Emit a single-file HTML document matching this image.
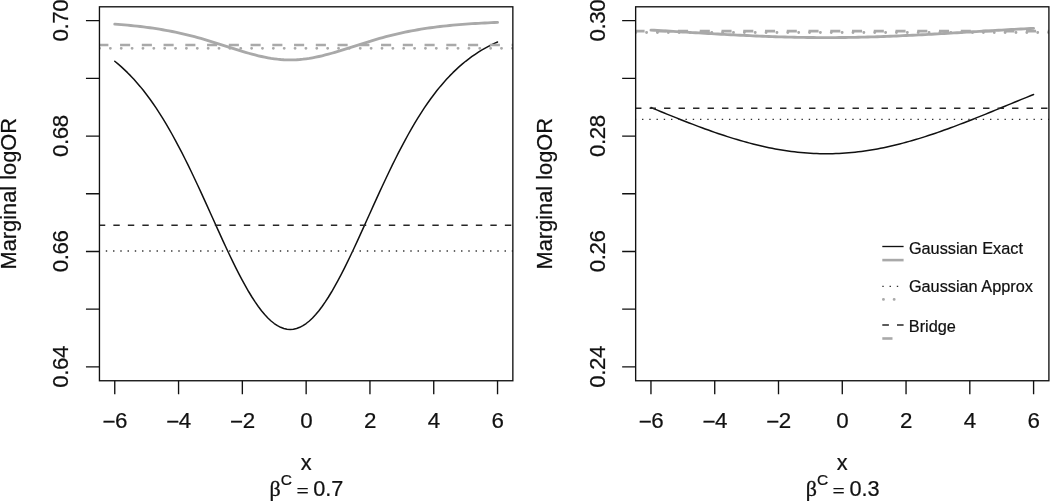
<!DOCTYPE html>
<html lang="en"><head><meta charset="utf-8"><title>Marginal logOR</title>
<style>html,body{margin:0;padding:0;background:#fff;}body{width:1050px;height:501px;overflow:hidden;font-family:"Liberation Sans",sans-serif;}svg{display:block;}svg text{stroke:#111;stroke-width:0.22px;}</style>
</head><body>
<svg width="1050" height="501" viewBox="0 0 1050 501" font-family="'Liberation Sans', Arial, Helvetica, sans-serif" fill="#111">
<rect width="1050" height="501" fill="#fff"/>
<g id="panel0">
<clipPath id="clip0"><rect x="99.45" y="6.8" width="413.40000000000003" height="373.95"/></clipPath>
<g clip-path="url(#clip0)" fill="none">
<path d="M114.76,61.29 L117.95,63.91 L121.14,66.67 L124.33,69.59 L127.52,72.66 L130.71,75.90 L133.90,79.31 L137.09,82.89 L140.28,86.64 L143.47,90.58 L146.66,94.71 L149.85,99.01 L153.04,103.51 L156.23,108.20 L159.42,113.08 L162.61,118.16 L165.80,123.42 L168.99,128.86 L172.18,134.50 L175.37,140.31 L178.56,146.29 L181.75,152.43 L184.94,158.74 L188.13,165.19 L191.32,171.77 L194.51,178.47 L197.70,185.28 L200.89,192.18 L204.08,199.16 L207.27,206.18 L210.46,213.24 L213.65,220.31 L216.84,227.37 L220.03,234.39 L223.21,241.35 L226.40,248.23 L229.59,255.00 L232.78,261.62 L235.97,268.09 L239.16,274.36 L242.35,280.41 L245.54,286.22 L248.73,291.76 L251.92,297.00 L255.11,301.93 L258.30,306.50 L261.49,310.72 L264.68,314.55 L267.87,317.97 L271.06,320.98 L274.25,323.54 L277.44,325.66 L280.63,327.32 L283.82,328.51 L287.01,329.23 L290.20,329.47 L293.39,329.23 L296.58,328.51 L299.77,327.32 L302.96,325.66 L306.15,323.54 L309.34,320.98 L312.53,317.97 L315.72,314.55 L318.91,310.72 L322.10,306.50 L325.29,301.93 L328.48,297.00 L331.67,291.76 L334.86,286.22 L338.05,280.41 L341.24,274.36 L344.43,268.09 L347.62,261.62 L350.81,255.00 L354.00,248.23 L357.19,241.35 L360.38,234.39 L363.57,227.37 L366.76,220.31 L369.95,213.24 L373.14,206.18 L376.33,199.16 L379.52,192.18 L382.71,185.28 L385.90,178.47 L389.09,171.77 L392.28,165.19 L395.46,158.74 L398.65,152.43 L401.84,146.29 L405.03,140.31 L408.22,134.50 L411.41,128.86 L414.60,123.42 L417.79,118.16 L420.98,113.08 L424.17,108.20 L427.36,103.51 L430.55,99.01 L433.74,94.71 L436.93,90.58 L440.12,86.64 L443.31,82.89 L446.50,79.31 L449.69,75.90 L452.88,72.66 L456.07,69.59 L459.26,66.67 L462.45,63.91 L465.64,61.29 L468.83,58.81 L472.02,56.47 L475.21,54.26 L478.40,52.18 L481.59,50.21 L484.78,48.35 L487.97,46.61 L491.16,44.97 L494.35,43.42 L497.54,41.97" stroke="#111" stroke-width="1.5" stroke-linejoin="round" stroke-linecap="round"/>
<line x1="98.85" x2="514.85" y1="225.14" y2="225.14" stroke="#262626" stroke-width="1.5" stroke-dasharray="6.4 8.1"/>
<line x1="98.55" x2="514.85" y1="250.94" y2="250.94" stroke="#333" stroke-width="1.4" stroke-dasharray="1.4 5.85"/>
<path d="M114.76,24.12 L117.95,24.36 L121.14,24.62 L124.33,24.89 L127.52,25.17 L130.71,25.48 L133.90,25.80 L137.09,26.15 L140.28,26.51 L143.47,26.90 L146.66,27.31 L149.85,27.74 L153.04,28.20 L156.23,28.69 L159.42,29.20 L162.61,29.74 L165.80,30.30 L168.99,30.90 L172.18,31.52 L175.37,32.17 L178.56,32.86 L181.75,33.57 L184.94,34.32 L188.13,35.09 L191.32,35.90 L194.51,36.73 L197.70,37.60 L200.89,38.49 L204.08,39.40 L207.27,40.34 L210.46,41.30 L213.65,42.28 L216.84,43.28 L220.03,44.29 L223.21,45.31 L226.40,46.34 L229.59,47.36 L232.78,48.39 L235.97,49.40 L239.16,50.40 L242.35,51.38 L245.54,52.33 L248.73,53.25 L251.92,54.14 L255.11,54.98 L258.30,55.77 L261.49,56.51 L264.68,57.19 L267.87,57.80 L271.06,58.34 L274.25,58.80 L277.44,59.19 L280.63,59.49 L283.82,59.71 L287.01,59.84 L290.20,59.88 L293.39,59.84 L296.58,59.71 L299.77,59.49 L302.96,59.19 L306.15,58.80 L309.34,58.34 L312.53,57.80 L315.72,57.19 L318.91,56.51 L322.10,55.77 L325.29,54.98 L328.48,54.14 L331.67,53.25 L334.86,52.33 L338.05,51.38 L341.24,50.40 L344.43,49.40 L347.62,48.39 L350.81,47.36 L354.00,46.34 L357.19,45.31 L360.38,44.29 L363.57,43.28 L366.76,42.28 L369.95,41.30 L373.14,40.34 L376.33,39.40 L379.52,38.49 L382.71,37.60 L385.90,36.73 L389.09,35.90 L392.28,35.09 L395.46,34.32 L398.65,33.57 L401.84,32.86 L405.03,32.17 L408.22,31.52 L411.41,30.90 L414.60,30.30 L417.79,29.74 L420.98,29.20 L424.17,28.69 L427.36,28.20 L430.55,27.74 L433.74,27.31 L436.93,26.90 L440.12,26.51 L443.31,26.15 L446.50,25.80 L449.69,25.48 L452.88,25.17 L456.07,24.89 L459.26,24.62 L462.45,24.36 L465.64,24.12 L468.83,23.90 L472.02,23.69 L475.21,23.49 L478.40,23.31 L481.59,23.13 L484.78,22.97 L487.97,22.82 L491.16,22.68 L494.35,22.54 L497.54,22.42" stroke="#a9a9a9" stroke-width="2.85" stroke-linejoin="round" stroke-linecap="round"/>
<line x1="98.30" x2="514.85" y1="44.99" y2="44.99" stroke="#a9a9a9" stroke-width="2.6" stroke-dasharray="10.1 11.65"/>
<line x1="99.45" x2="514.85" y1="48.30" y2="48.30" stroke="#a9a9a9" stroke-width="2.8" stroke-linecap="round" stroke-dasharray="0.1 10.765"/>
</g>
<rect x="99.45" y="6.8" width="413.40" height="373.95" fill="none" stroke="#111" stroke-width="1.35"/>
<path d="M114.76,380.75V394.15M178.56,380.75V394.15M242.35,380.75V394.15M306.15,380.75V394.15M369.95,380.75V394.15M433.74,380.75V394.15M497.54,380.75V394.15M99.45,366.90H85.95M99.45,309.19H85.95M99.45,251.48H85.95M99.45,193.77H85.95M99.45,136.07H85.95M99.45,78.36H85.95M99.45,20.65H85.95" stroke="#111" stroke-width="1.35" fill="none"/>
<g font-size="22.35" letter-spacing="-0.45" text-anchor="middle">
<text transform="translate(114.76,427.8)"><tspan dy="1.2">−</tspan><tspan dy="-1.2">6</tspan></text>
<text transform="translate(178.56,427.8)"><tspan dy="1.2">−</tspan><tspan dy="-1.2">4</tspan></text>
<text transform="translate(242.35,427.8)"><tspan dy="1.2">−</tspan><tspan dy="-1.2">2</tspan></text>
<text transform="translate(306.15,427.8)">0</text>
<text transform="translate(369.95,427.8)">2</text>
<text transform="translate(433.74,427.8)">4</text>
<text transform="translate(497.54,427.8)">6</text>
<text transform="translate(68.45,366.90) rotate(-90)">0.64</text>
<text transform="translate(68.45,251.48) rotate(-90)">0.66</text>
<text transform="translate(68.45,136.07) rotate(-90)">0.68</text>
<text transform="translate(68.45,20.65) rotate(-90)">0.70</text>
</g>
<text font-size="21.82" text-anchor="middle" transform="translate(16.15,193.68) rotate(-90)">Marginal logOR</text>
<text font-size="21.7" text-anchor="middle" x="306.15" y="469.5">x</text>
<text font-size="21.7" x="269.55" y="495.7"><tspan font-family="'Liberation Serif', 'DejaVu Serif', serif" font-size="22" stroke="#111" stroke-width="0.35">β</tspan><tspan font-size="15.5" dy="-10.6" dx="0.1">C</tspan><tspan dy="12.7" dx="4.4" font-family="'Liberation Serif', serif">=</tspan><tspan dy="-2.1" dx="4.6">0.7</tspan></text>
</g>
<g id="panel1">
<clipPath id="clip1"><rect x="635.65" y="6.8" width="413.2500000000001" height="373.95"/></clipPath>
<g clip-path="url(#clip1)" fill="none">
<path d="M650.96,107.54 L654.14,108.85 L657.33,110.16 L660.52,111.47 L663.71,112.77 L666.90,114.07 L670.09,115.36 L673.28,116.64 L676.46,117.92 L679.65,119.19 L682.84,120.45 L686.03,121.70 L689.22,122.94 L692.41,124.16 L695.60,125.38 L698.79,126.58 L701.97,127.76 L705.16,128.93 L708.35,130.08 L711.54,131.22 L714.73,132.34 L717.92,133.43 L721.11,134.51 L724.29,135.57 L727.48,136.60 L730.67,137.61 L733.86,138.60 L737.05,139.56 L740.24,140.49 L743.43,141.40 L746.62,142.29 L749.80,143.14 L752.99,143.97 L756.18,144.77 L759.37,145.53 L762.56,146.27 L765.75,146.97 L768.94,147.65 L772.12,148.29 L775.31,148.89 L778.50,149.47 L781.69,150.00 L784.88,150.51 L788.07,150.98 L791.26,151.41 L794.45,151.80 L797.63,152.16 L800.82,152.49 L804.01,152.77 L807.20,153.02 L810.39,153.23 L813.58,153.40 L816.77,153.54 L819.95,153.63 L823.14,153.69 L826.33,153.71 L829.52,153.69 L832.71,153.63 L835.90,153.54 L839.09,153.40 L842.28,153.23 L845.46,153.02 L848.65,152.77 L851.84,152.49 L855.03,152.16 L858.22,151.80 L861.41,151.41 L864.60,150.98 L867.78,150.51 L870.97,150.00 L874.16,149.47 L877.35,148.89 L880.54,148.29 L883.73,147.65 L886.92,146.97 L890.10,146.27 L893.29,145.53 L896.48,144.77 L899.67,143.97 L902.86,143.14 L906.05,142.29 L909.24,141.40 L912.43,140.49 L915.61,139.56 L918.80,138.60 L921.99,137.61 L925.18,136.60 L928.37,135.57 L931.56,134.51 L934.75,133.43 L937.93,132.34 L941.12,131.22 L944.31,130.08 L947.50,128.93 L950.69,127.76 L953.88,126.58 L957.07,125.38 L960.26,124.16 L963.44,122.94 L966.63,121.70 L969.82,120.45 L973.01,119.19 L976.20,117.92 L979.39,116.64 L982.58,115.36 L985.76,114.07 L988.95,112.77 L992.14,111.47 L995.33,110.16 L998.52,108.85 L1001.71,107.54 L1004.90,106.23 L1008.09,104.92 L1011.27,103.60 L1014.46,102.29 L1017.65,100.98 L1020.84,99.67 L1024.03,98.37 L1027.22,97.07 L1030.41,95.77 L1033.59,94.48" stroke="#111" stroke-width="1.5" stroke-linejoin="round" stroke-linecap="round"/>
<line x1="635.05" x2="1050.9" y1="108.35" y2="108.35" stroke="#262626" stroke-width="1.5" stroke-dasharray="6.4 8.1"/>
<line x1="634.75" x2="1050.9" y1="119.40" y2="119.40" stroke="#333" stroke-width="1.4" stroke-dasharray="1.4 5.85"/>
<path d="M650.96,30.08 L654.14,30.27 L657.33,30.45 L660.52,30.64 L663.71,30.83 L666.90,31.02 L670.09,31.21 L673.28,31.40 L676.46,31.59 L679.65,31.78 L682.84,31.97 L686.03,32.17 L689.22,32.36 L692.41,32.55 L695.60,32.74 L698.79,32.93 L701.97,33.12 L705.16,33.30 L708.35,33.49 L711.54,33.67 L714.73,33.86 L717.92,34.04 L721.11,34.21 L724.29,34.39 L727.48,34.56 L730.67,34.73 L733.86,34.90 L737.05,35.07 L740.24,35.23 L743.43,35.38 L746.62,35.54 L749.80,35.69 L752.99,35.83 L756.18,35.97 L759.37,36.11 L762.56,36.24 L765.75,36.37 L768.94,36.49 L772.12,36.60 L775.31,36.71 L778.50,36.81 L781.69,36.91 L784.88,37.00 L788.07,37.09 L791.26,37.17 L794.45,37.24 L797.63,37.31 L800.82,37.37 L804.01,37.42 L807.20,37.47 L810.39,37.51 L813.58,37.54 L816.77,37.56 L819.95,37.58 L823.14,37.59 L826.33,37.60 L829.52,37.59 L832.71,37.58 L835.90,37.56 L839.09,37.54 L842.28,37.51 L845.46,37.47 L848.65,37.42 L851.84,37.37 L855.03,37.31 L858.22,37.24 L861.41,37.17 L864.60,37.09 L867.78,37.00 L870.97,36.91 L874.16,36.81 L877.35,36.71 L880.54,36.60 L883.73,36.49 L886.92,36.37 L890.10,36.24 L893.29,36.11 L896.48,35.97 L899.67,35.83 L902.86,35.69 L906.05,35.54 L909.24,35.38 L912.43,35.23 L915.61,35.07 L918.80,34.90 L921.99,34.73 L925.18,34.56 L928.37,34.39 L931.56,34.21 L934.75,34.04 L937.93,33.86 L941.12,33.67 L944.31,33.49 L947.50,33.30 L950.69,33.12 L953.88,32.93 L957.07,32.74 L960.26,32.55 L963.44,32.36 L966.63,32.17 L969.82,31.97 L973.01,31.78 L976.20,31.59 L979.39,31.40 L982.58,31.21 L985.76,31.02 L988.95,30.83 L992.14,30.64 L995.33,30.45 L998.52,30.27 L1001.71,30.08 L1004.90,29.90 L1008.09,29.71 L1011.27,29.53 L1014.46,29.35 L1017.65,29.17 L1020.84,29.00 L1024.03,28.82 L1027.22,28.65 L1030.41,28.48 L1033.59,28.31" stroke="#a9a9a9" stroke-width="2.85" stroke-linejoin="round" stroke-linecap="round"/>
<line x1="634.50" x2="1050.9" y1="31.08" y2="31.08" stroke="#a9a9a9" stroke-width="2.6" stroke-dasharray="10.1 11.65"/>
<line x1="635.65" x2="1050.9" y1="32.50" y2="32.50" stroke="#a9a9a9" stroke-width="2.8" stroke-linecap="round" stroke-dasharray="0.1 10.765"/>
</g>
<rect x="635.65" y="6.8" width="413.25" height="373.95" fill="none" stroke="#111" stroke-width="1.35"/>
<path d="M650.96,380.75V394.15M714.73,380.75V394.15M778.50,380.75V394.15M842.28,380.75V394.15M906.05,380.75V394.15M969.82,380.75V394.15M1033.59,380.75V394.15M635.65,366.90H622.15M635.65,309.19H622.15M635.65,251.48H622.15M635.65,193.77H622.15M635.65,136.07H622.15M635.65,78.36H622.15M635.65,20.65H622.15" stroke="#111" stroke-width="1.35" fill="none"/>
<g font-size="22.35" letter-spacing="-0.45" text-anchor="middle">
<text transform="translate(650.96,427.8)"><tspan dy="1.2">−</tspan><tspan dy="-1.2">6</tspan></text>
<text transform="translate(714.73,427.8)"><tspan dy="1.2">−</tspan><tspan dy="-1.2">4</tspan></text>
<text transform="translate(778.50,427.8)"><tspan dy="1.2">−</tspan><tspan dy="-1.2">2</tspan></text>
<text transform="translate(842.28,427.8)">0</text>
<text transform="translate(906.05,427.8)">2</text>
<text transform="translate(969.82,427.8)">4</text>
<text transform="translate(1033.59,427.8)">6</text>
<text transform="translate(604.65,366.90) rotate(-90)">0.24</text>
<text transform="translate(604.65,251.48) rotate(-90)">0.26</text>
<text transform="translate(604.65,136.07) rotate(-90)">0.28</text>
<text transform="translate(604.65,20.65) rotate(-90)">0.30</text>
</g>
<text font-size="21.82" text-anchor="middle" transform="translate(552.35,193.68) rotate(-90)">Marginal logOR</text>
<text font-size="21.7" text-anchor="middle" x="842.28" y="469.5">x</text>
<text font-size="21.7" x="805.68" y="495.7"><tspan font-family="'Liberation Serif', 'DejaVu Serif', serif" font-size="22" stroke="#111" stroke-width="0.35">β</tspan><tspan font-size="15.5" dy="-10.6" dx="0.1">C</tspan><tspan dy="12.7" dx="4.4" font-family="'Liberation Serif', serif">=</tspan><tspan dy="-2.1" dx="4.6">0.3</tspan></text>
</g>
<g id="legend">
<line x1="882.3" x2="903.6" y1="246.5" y2="246.5" stroke="#111" stroke-width="1.35"/>
<line x1="882.3" x2="903.6" y1="260.1" y2="260.1" stroke="#a9a9a9" stroke-width="2.6"/>
<line x1="882.3" x2="903.6" y1="286.4" y2="286.4" stroke="#333" stroke-width="1.4" stroke-dasharray="1.4 5.85"/>
<line x1="883.4" x2="903.6" y1="299.4" y2="299.4" stroke="#a9a9a9" stroke-width="2.8" stroke-linecap="round" stroke-dasharray="0.1 10.6"/>
<line x1="882.3" x2="903.6" y1="325.1" y2="325.1" stroke="#262626" stroke-width="1.5" stroke-dasharray="6.6 8.1"/>
<line x1="882.3" x2="903.6" y1="338.5" y2="338.5" stroke="#a9a9a9" stroke-width="2.6" stroke-dasharray="10.2 11.6"/>
<g font-size="16.3">
<text x="908.9" y="253.5">Gaussian Exact</text>
<text x="908.9" y="292.4">Gaussian Approx</text>
<text x="908.8" y="331.9">Bridge</text>
</g></g>
</svg>
</body></html>
